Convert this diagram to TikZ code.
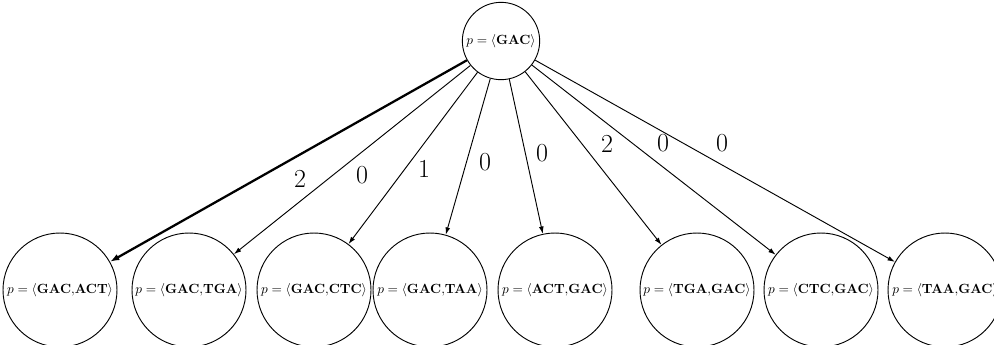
\documentclass[tikz,border=0pt]{standalone}
\usetikzlibrary{arrows.meta}
\begin{document}
\begin{tikzpicture}[x=0.75pt,y=-0.75pt,
  state/.style={circle,draw,line width=0.7pt,inner sep=0pt,font=\fontsize{10.2}{12}\selectfont},
  rootstate/.style={state,minimum size=58pt},
  leafstate/.style={state,minimum size=85.5pt},
  edge/.style={line width=0.7pt,-{Latex[length=5.5pt,width=3.6pt]}},
  bestedge/.style={line width=1.7pt,-{Latex[length=7pt,width=5pt]}},
  weight/.style={inner sep=0pt,font=\fontsize{19.5}{22}\selectfont}]
\useasboundingbox (0,0) rectangle (994,344);

% root pattern
\node[rootstate] (r) at (501,41) {$p=\langle\mathbf{GAC}\rangle$};

% extended patterns
\node[leafstate] (c1) at (60,290)  {$p=\langle\mathbf{GAC{,}ACT}\rangle$};
\node[leafstate] (c2) at (189,290) {$p=\langle\mathbf{GAC{,}TGA}\rangle$};
\node[leafstate] (c3) at (314,290) {$p=\langle\mathbf{GAC{,}CTC}\rangle$};
\node[leafstate] (c4) at (430,290) {$p=\langle\mathbf{GAC{,}TAA}\rangle$};
\node[leafstate] (c5) at (555,290) {$p=\langle\mathbf{ACT{,}GAC}\rangle$};
\node[leafstate] (c6) at (697,290) {$p=\langle\mathbf{TGA{,}GAC}\rangle$};
\node[leafstate] (c7) at (821,290) {$p=\langle\mathbf{CTC{,}GAC}\rangle$};
\node[leafstate] (c8) at (945,290) {$p=\langle\mathbf{TAA{,}GAC}\rangle$};

% extensions
\draw[bestedge] (r) -- (c1);
\draw[edge] (r) -- (c2);
\draw[edge] (r) -- (c3);
\draw[edge] (r) -- (c4);
\draw[edge] (r) -- (c5);
\draw[edge] (r) -- (c6);
\draw[edge] (r) -- (c7);
\draw[edge] (r) -- (c8);

% support counts
\node[weight] (w1) at (300,179) {2};
\node[weight] (w2) at (362,175) {0};
\node[weight] (w3) at (424,169) {1};
\node[weight] (w4) at (485,162) {0};
\node[weight] (w5) at (542,153) {0};
\node[weight] (w6) at (607,144) {2};
\node[weight] (w7) at (663,143) {0};
\node[weight] (w8) at (722,143) {0};
\end{tikzpicture}
\end{document}
